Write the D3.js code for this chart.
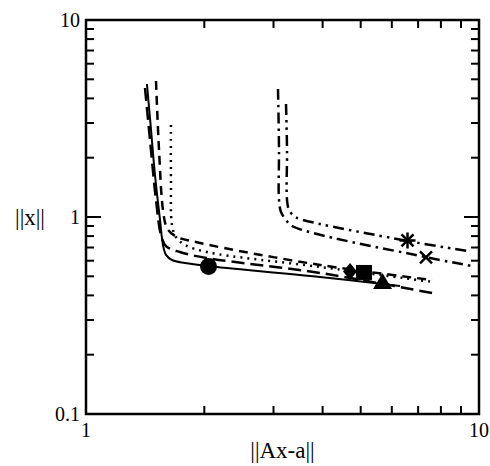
<!DOCTYPE html>
<html>
<head>
<meta charset="utf-8">
<script src="https://cdn.jsdelivr.net/npm/d3@7"></script>
<style>
  html, body { margin: 0; padding: 0; background: #fff; }
  svg { display: block; }
  text { font-family: "Liberation Serif", "Times New Roman", serif; fill: #000; }
</style>
</head>
<body>
<svg id="chart" width="490" height="466"></svg>
<script>
// ---- data (||Ax-a||, ||x||) ----
const solidX = [1.429, 1.464, 1.498, 1.543, 1.570, 1.598, 1.655, 1.786, 2.032, 3.939, 6.295];
const solidY = [4.732, 2.765, 1.634, 0.966, 0.721, 0.642, 0.605, 0.584, 0.564, 0.496, 0.446];

const longDashX = [1.413, 1.455, 1.507, 1.552, 1.598, 1.734, 2.032, 3.939, 7.594];
const longDashY = [4.517, 2.460, 1.220, 0.810, 0.712, 0.664, 0.619, 0.520, 0.411];

const dashX = [1.507, 1.534, 1.570, 1.607, 1.685, 1.950, 3.939, 7.594];
const dashY = [4.901, 2.188, 1.085, 0.880, 0.801, 0.738, 0.571, 0.479];

const dotX = [1.645, 1.645, 1.655, 1.694, 1.786, 2.032, 3.939, 7.638];
const dotY = [2.931, 1.541, 0.911, 0.791, 0.721, 0.664, 0.558, 0.468];

const dashDotX = [3.080, 3.098, 3.098, 3.135, 3.228, 3.344, 7.288, 9.598];
const dashDotY = [4.464, 2.188, 1.220, 1.060, 0.966, 0.900, 0.627, 0.564];

const dashDotDotX = [3.228, 3.247, 3.247, 3.285, 3.383, 3.503, 6.597, 9.376];
const dashDotDotY = [3.747, 2.188, 1.220, 1.085, 1.012, 0.977, 0.755, 0.672];

// chosen points (markers)
const markerNames = ["circle", "diamond", "square", "triangle", "asterisk", "cross"];
const markerX = [2.050, 4.697, 5.097, 5.682, 6.578, 7.331];
const markerY = [0.561, 0.529, 0.523, 0.468, 0.760, 0.623];

const xTickValues = [1, 10];
const xTickLabels = ["1", "10"];
const yTickValues = [0.1, 1, 10];
const yTickLabels = ["0.1", "1", "10"];
const minorTicks = [2, 3, 4, 5, 6, 7, 8, 9];

const xTitle = "||Ax-a||";
const yTitle = "||x||";

// ---- drawing ----
const svg = d3.select("#chart");
const L = 86, R = 479, T = 20, B = 414;
const x = d3.scaleLog().domain([1, 10]).range([L, R]);
const y = d3.scaleLog().domain([0.1, 10]).range([B, T]);

const xMinor = minorTicks.map(d => d);
const yMinor = minorTicks.map(d => d / 10).concat(minorTicks);

// frame
svg.append("rect").attr("x", L).attr("y", T).attr("width", R - L).attr("height", B - T)
  .attr("fill", "none").attr("stroke", "#000").attr("stroke-width", 2.5);

const tickG = svg.append("g").attr("stroke", "#000").attr("stroke-width", 2);
xMinor.forEach(v => {
  tickG.append("line").attr("x1", x(v)).attr("x2", x(v)).attr("y1", B).attr("y2", B - 8);
  tickG.append("line").attr("x1", x(v)).attr("x2", x(v)).attr("y1", T).attr("y2", T + 8);
});
yMinor.forEach(v => {
  tickG.append("line").attr("y1", y(v)).attr("y2", y(v)).attr("x1", L).attr("x2", L + 8);
  tickG.append("line").attr("y1", y(v)).attr("y2", y(v)).attr("x1", R).attr("x2", R - 8);
});
yTickValues.forEach(v => {
  tickG.append("line").attr("y1", y(v)).attr("y2", y(v)).attr("x1", L).attr("x2", L + 15);
  tickG.append("line").attr("y1", y(v)).attr("y2", y(v)).attr("x1", R).attr("x2", R - 15);
});

// tick labels
yTickValues.forEach((v, i) => {
  svg.append("text").attr("x", L - 6).attr("y", y(v) + 7)
    .attr("text-anchor", "end").attr("font-size", 20).text(yTickLabels[i]);
});
xTickValues.forEach((v, i) => {
  svg.append("text").attr("x", x(v)).attr("y", B + 23)
    .attr("text-anchor", "middle").attr("font-size", 20).text(xTickLabels[i]);
});

// axis titles
svg.append("text").attr("x", (L + R) / 2).attr("y", 458)
  .attr("text-anchor", "middle").attr("font-size", 23).text(xTitle);
svg.append("text").attr("x", 30).attr("y", 225)
  .attr("text-anchor", "middle").attr("font-size", 23).text(yTitle);

// curves
const line = d3.line().x(d => x(d[0])).y(d => y(d[1])).curve(d3.curveCatmullRom.alpha(0.5));
const series = [
  { xs: solidX, ys: solidY, dash: null, w: 2 },
  { xs: longDashX, ys: longDashY, dash: "13,6", w: 2.5 },
  { xs: dashX, ys: dashY, dash: "9,6", w: 2.5 },
  { xs: dotX, ys: dotY, dash: "2,5", w: 2.5 },
  { xs: dashDotX, ys: dashDotY, dash: "11,5,2.5,5", w: 2.5 },
  { xs: dashDotDotX, ys: dashDotDotY, dash: "11,5,2.5,5,2.5,5", w: 2.5 }
];
const curveG = svg.append("g").attr("fill", "none").attr("stroke", "#000");
series.forEach(s => {
  const pts = s.xs.map((v, i) => [v, s.ys[i]]);
  curveG.append("path").attr("d", line(pts))
    .attr("stroke-width", s.w)
    .attr("stroke-dasharray", s.dash);
});

// markers
const mg = svg.append("g");
markerNames.forEach((name, i) => {
  const cx = x(markerX[i]), cy = y(markerY[i]);
  const g = mg.append("g").attr("transform", `translate(${cx},${cy})`);
  if (name === "circle") {
    g.append("circle").attr("r", 8.5).attr("fill", "#000");
  } else if (name === "diamond") {
    g.append("path").attr("d", "M0,-8.5L7,0L0,8.5L-7,0Z").attr("fill", "#000");
  } else if (name === "square") {
    g.append("rect").attr("x", -8).attr("y", -7.5).attr("width", 16).attr("height", 15).attr("fill", "#000");
  } else if (name === "triangle") {
    g.append("path").attr("d", "M0,-9L9.5,7L-9.5,7Z").attr("fill", "#000");
  } else if (name === "asterisk") {
    const a = g.append("g").attr("stroke", "#000").attr("stroke-width", 2.5);
    a.append("line").attr("x1", -8).attr("x2", 8).attr("y1", 0).attr("y2", 0);
    a.append("line").attr("x1", 0).attr("x2", 0).attr("y1", -8).attr("y2", 8);
    a.append("line").attr("x1", -6).attr("x2", 6).attr("y1", -6).attr("y2", 6);
    a.append("line").attr("x1", -6).attr("x2", 6).attr("y1", 6).attr("y2", -6);
  } else if (name === "cross") {
    const a = g.append("g").attr("stroke", "#000").attr("stroke-width", 2.5);
    a.append("line").attr("x1", -6).attr("x2", 6).attr("y1", -6).attr("y2", 6);
    a.append("line").attr("x1", -6).attr("x2", 6).attr("y1", 6).attr("y2", -6);
  }
});
</script>
</body>
</html>
